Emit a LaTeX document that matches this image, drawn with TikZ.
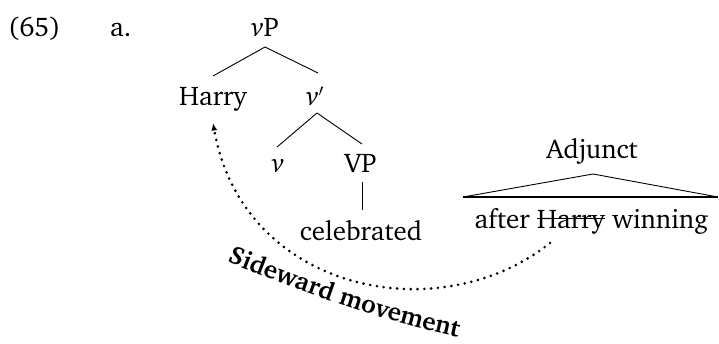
\documentclass[tikz,border=0pt]{standalone}
\usepackage[T1]{fontenc}
\renewcommand{\rmdefault}{bch}
\usetikzlibrary{arrows.meta,decorations.text}
\newsavebox\strkbox
\newcommand\mystrike[1]{\sbox\strkbox{#1}\rlap{\rule[9.5pt]{\wd\strkbox}{0.9pt}}\usebox\strkbox}
\begin{document}
\begin{tikzpicture}[x=1pt,y=1pt,
  lbl/.style={anchor=base,inner sep=0pt,font=\fontsize{27}{32}\selectfont},
  edge/.style={line width=0.9pt},
  basel/.style={line width=1.5pt},
  mvt/.style={line width=2.9pt,line cap=round,dash pattern=on 0pt off 6.8pt,-{Latex[length=7.5pt,width=6pt]}}]
\useasboundingbox (0,0) rectangle (719,343);
\node[lbl,anchor=base west] (ex) at (8,306) {(65)};
\node[lbl,anchor=base west] (sub) at (110,306) {a.};
\node[lbl] (vP) at (265,306) {\textit{v}P};
\node[lbl] (Harry) at (213,237) {Harry};
\node[lbl] (vbar) at (315,237) {\textit{v}$'$};
\node[lbl] (v) at (278,171) {\textit{v}};
\node[lbl] (VP) at (360.5,171) {VP};
\node[lbl] (cel) at (361,103) {celebrated};
\node[lbl] (adj) at (592,185) {Adjunct};
\node[lbl] (after) at (591.5,115) {after \mystrike{Harry} winning};
\draw[edge] ([yshift=-10pt]vP.base) -- ([yshift=30pt]Harry.base);
\draw[edge] ([yshift=-10pt]vP.base) -- ([xshift=3pt,yshift=33pt]vbar.base);
\draw[edge] ([xshift=2pt,yshift=-7pt]vbar.base) -- ([xshift=-1pt,yshift=25pt]v.base);
\draw[edge] ([xshift=2pt,yshift=-7pt]vbar.base) -- ([xshift=1.5pt,yshift=28pt]VP.base);
\draw[edge] ([xshift=1.5pt,yshift=-10pt]VP.base) -- ([xshift=1pt,yshift=30pt]cel.base);
\draw[edge] ([xshift=-128.5pt,yshift=31pt]after.base) -- ([xshift=1pt,yshift=-16pt]adj.base) -- ([xshift=126.5pt,yshift=31pt]after.base);
\draw[basel] ([xshift=-128.5pt,yshift=31pt]after.base) -- ([xshift=126.5pt,yshift=31pt]after.base);
\draw[mvt] ([xshift=-41.5pt,yshift=-15pt]after.base) .. controls +(-110,-88) and +(30,-170) .. ([yshift=-17pt]Harry.base);
\path[decorate,decoration={text along path,text align=left,text={|\fontsize{25.5}{30}\selectfont\bfseries|Sideward movement}}] (227,81) .. controls (290,57) and (370,23) .. (480,1);
\end{tikzpicture}
\end{document}
